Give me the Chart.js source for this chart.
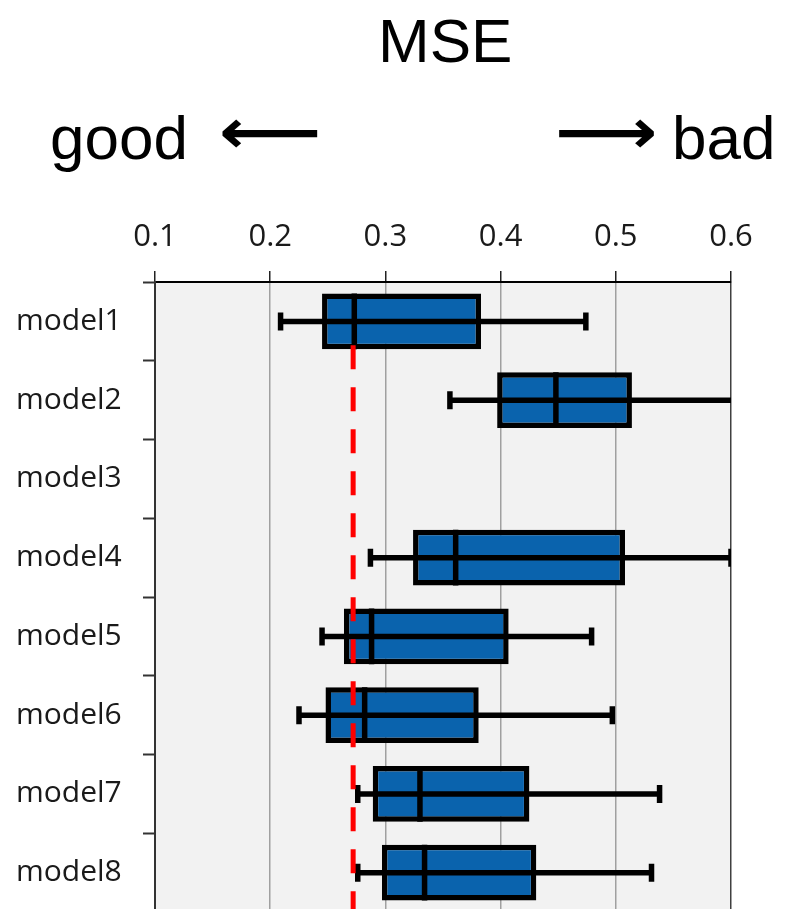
<!DOCTYPE html>
<html>
<head>
<meta charset="utf-8">
<script src="https://cdn.jsdelivr.net/npm/chart.js@4.4.0/dist/chart.umd.min.js"></script>
<style>
    html, body { margin: 0; padding: 0; background: #fff; overflow: hidden; }
    #wrap { position: relative; width: 792px; height: 909px; overflow: hidden; }
    #chartBox { position: absolute; left: 0; top: 0; width: 792px; height: 933px; }
    .head { position: absolute; font-family: "Liberation Sans", Arial, sans-serif; font-size: 62px; line-height: 62px; color: #000; white-space: nowrap; }
    .arrow { position: absolute; font-family: "DejaVu Sans", sans-serif; font-weight: bold; font-size: 62px; line-height: 62px; color: #000; transform: scaleX(1.15); transform-origin: left center; }
</style>
</head>
<body>
<div id="wrap">
    <div id="chartBox"><canvas id="chartMse" width="792" height="933"></canvas></div>
    <div class="head" style="left:378px; top:10px;">MSE</div>
    <div class="head" style="left:50px; top:107px;">good</div>
    <div class="arrow" style="left:219px; top:101px;">⟵</div>
    <div class="arrow" style="left:555px; top:101px;">⟶</div>
    <div class="head" style="left:672px; top:107px;">bad</div>
</div>
<script>
'use strict';

// values (MSE per model)
const MODELS = ['model1', 'model2', 'model3', 'model4', 'model5', 'model6', 'model7', 'model8'];
const WHISKER_LOW = [0.209, 0.356, null, 0.287, 0.245, 0.225, 0.276, 0.276];
const Q1 = [0.245, 0.397, null, 0.324, 0.264, 0.248, 0.289, 0.297];
const MEDIAN = [0.273, 0.448, null, 0.361, 0.288, 0.282, 0.330, 0.334];
const Q3 = [0.383, 0.514, null, 0.508, 0.407, 0.381, 0.425, 0.431];
const WHISKER_HIGH = [0.474, 0.630, null, 0.600, 0.479, 0.497, 0.538, 0.531];
const REFERENCE_MSE = 0.272;
const X_MIN = 0.1;
const X_MAX = 0.6;
const X_STEP = 0.1;

const boxes = MODELS.map(function (m, i) {
    return Q1[i] === null ? null : [Q1[i], Q3[i]];
});

const plotBackground = {
    id: 'plotBackground',
    beforeDraw(chart) {
        const { ctx, chartArea } = chart;
        ctx.save();
        ctx.fillStyle = '#f2f2f2';
        ctx.fillRect(chartArea.left, chartArea.top, chartArea.right - chartArea.left, chartArea.bottom - chartArea.top);
        ctx.restore();
    }
};

const whiskers = {
    id: 'whiskers',
    afterDatasetsDraw(chart) {
        const { ctx, chartArea } = chart;
        const x = chart.scales.x;
        const y = chart.scales.y;
        const bars = chart.getDatasetMeta(0).data;
        ctx.save();
        ctx.beginPath();
        ctx.rect(chartArea.left, chartArea.top, chartArea.right - chartArea.left, chartArea.bottom - chartArea.top);
        ctx.clip();
        ctx.strokeStyle = '#000';
        ctx.lineWidth = 5.5;
        MODELS.forEach(function (m, i) {
            if (WHISKER_LOW[i] === null) return;
            const yc = y.getPixelForValue(i);
            const half = bars[i].height / 2;
            const xl = x.getPixelForValue(WHISKER_LOW[i]);
            const xh = x.getPixelForValue(WHISKER_HIGH[i]);
            ctx.beginPath();
            ctx.moveTo(xl, yc);
            ctx.lineTo(xh, yc);
            ctx.moveTo(xl, yc - 9);
            ctx.lineTo(xl, yc + 9);
            ctx.moveTo(xh, yc - 9);
            ctx.lineTo(xh, yc + 9);
            const xm = x.getPixelForValue(MEDIAN[i]);
            ctx.moveTo(xm, yc - half);
            ctx.lineTo(xm, yc + half);
            ctx.stroke();
        });
        // dashed reference line, starting under the first box
        const xr = x.getPixelForValue(REFERENCE_MSE);
        const yStart = y.getPixelForValue(0) + bars[0].height / 2 - 4;
        ctx.strokeStyle = '#ff0000';
        ctx.lineWidth = 5;
        ctx.setLineDash([24, 18]);
        ctx.beginPath();
        ctx.moveTo(xr, yStart);
        ctx.lineTo(xr, chartArea.bottom);
        ctx.stroke();
        ctx.restore();
    }
};

const config = {
    type: 'bar',
    data: {
        labels: MODELS,
        datasets: [{
            data: boxes,
            backgroundColor: '#0a63ad',
            borderColor: '#000',
            borderWidth: 5.5,
            borderSkipped: false,
            categoryPercentage: 1,
            barPercentage: 0.71
        }]
    },
    options: {
        indexAxis: 'y',
        responsive: false,
        animation: false,
        layout: { padding: { left: 16, right: 61, top: 0, bottom: 0 } },
        plugins: { legend: { display: false }, tooltip: { enabled: false } },
        scales: {
            x: {
                type: 'linear',
                position: 'top',
                min: X_MIN,
                max: X_MAX,
                afterFit(scale) { scale.height = 282; },
                ticks: {
                    stepSize: X_STEP,
                    padding: 15,
                    color: '#1a1a1a',
                    font: { family: 'Open Sans', size: 31 },
                    callback: function (v) { return v.toFixed(1); }
                },
                grid: {
                    color: function (c) { return c.tick && Math.abs(c.tick.value - X_MAX) < 1e-9 ? '#404040' : '#a0a0a0'; },
                    lineWidth: 1.5,
                    tickColor: '#222',
                    tickLength: 11,
                    tickWidth: 1.5
                },
                border: { color: '#000', width: 2 }
            },
            y: {
                type: 'category',
                afterFit(scale) { scale.width = 139; },
                ticks: {
                    crossAlign: 'far',
                    color: '#1a1a1a',
                    font: { family: 'Open Sans', size: 30 }
                },
                grid: {
                    offset: true,
                    drawOnChartArea: false,
                    tickColor: '#333',
                    tickLength: 12,
                    tickWidth: 2
                },
                border: { color: '#333', width: 2 }
            }
        }
    },
    plugins: [plotBackground, whiskers]
};

var chartMse = new Chart(document.getElementById('chartMse'), config);
</script>
</body>
</html>
